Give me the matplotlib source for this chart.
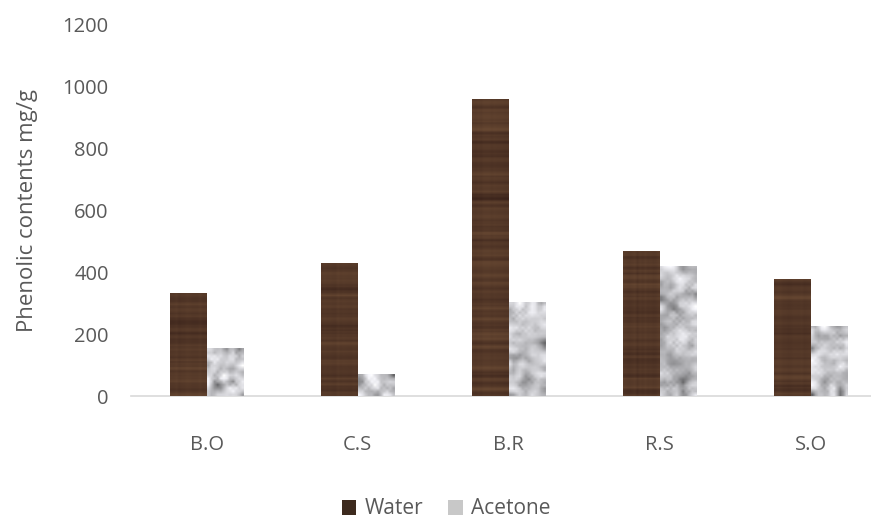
import matplotlib.pyplot as plt
import numpy as np
from matplotlib.patches import Patch

categories = ['B.O', 'C.S', 'B.R', 'R.S', 'S.O']
water = [333, 430, 961, 470, 378]
acetone = [155, 71, 304, 421, 227]

TEXT = '#595959'
plt.rcParams['font.family'] = ['Open Sans', 'DejaVu Sans']

rng = np.random.default_rng(7)


def blur(a, n=1):
    # small box blur so the noise looks like stone grain
    for _ in range(n):
        p = np.pad(a, 1, mode='edge')
        a = (p[:-2, 1:-1] + p[2:, 1:-1] + p[1:-1, :-2] + p[1:-1, 2:] + p[1:-1, 1:-1]) / 5
    return a


def wood_texture(rows, cols=14):
    streak = blur(rng.normal(0, 1, (rows, 1)).repeat(3, axis=1), 1)[:, :1]
    cols_v = rng.normal(0, 0.25, (1, cols))
    v = 0.5 + 0.18 * streak + 0.12 * cols_v
    v = np.clip(v, 0, 1)
    dark = np.array([0.22, 0.13, 0.10])
    light = np.array([0.45, 0.32, 0.22])
    return dark + (light - dark) * v[..., None]


def granite_texture(rows, cols=12):
    n = blur(rng.normal(0, 1, (rows, cols)), 2)
    n = (n - n.min()) / (n.max() - n.min())
    g = 0.4 + 0.6 * n ** 0.7
    return np.dstack([g, g, g * 1.02]).clip(0, 1)


fig = plt.figure(figsize=(8.71, 5.2), dpi=100)
ax = fig.add_axes([131 / 871, 124 / 520, 740 / 871, 371 / 520])

x = np.arange(len(categories))
w = 0.245
bars_w = ax.bar(x - w / 2, water, w, color='#3d2a1e', label='Water')
bars_a = ax.bar(x + w / 2, acetone, w, color='#b5b5b5', label='Acetone')

for bars, kind in [(bars_w, 'wood'), (bars_a, 'granite')]:
    for b in bars:
        x0, h = b.get_x(), b.get_height()
        rows = max(int(h * 0.309 / 3), 4)
        tex = wood_texture(rows * 2) if kind == 'wood' else granite_texture(rows)
        im = ax.imshow(tex, extent=[x0, x0 + b.get_width(), 0, h], aspect='auto',
                       interpolation='bilinear', zorder=3)
        im.set_clip_path(b)

ax.set_xlim(-0.5, 4.4)
ax.set_ylim(0, 1200)
ax.set_yticks(range(0, 1201, 200))
ax.set_xticks(x)
ax.set_xticklabels(categories)
ax.tick_params(axis='both', length=0, colors=TEXT, labelsize=14.5)
ax.tick_params(axis='x', pad=28)
ax.tick_params(axis='y', pad=16)
for s in ['top', 'right', 'left']:
    ax.spines[s].set_visible(False)
ax.spines['bottom'].set_color('#d9d9d9')
ax.spines['bottom'].set_linewidth(1.2)
ax.set_ylabel('Phenolic contents mg/g', color=TEXT, fontsize=16, labelpad=18)

handles = [Patch(facecolor='#3d2a1e', label='Water'),
           Patch(facecolor='#c8c8c8', label='Acetone')]
fig.legend(handles=handles, loc='center', bbox_to_anchor=(446 / 871, 1 - 509 / 520),
           ncol=2, frameon=False, fontsize=15, labelcolor=TEXT,
           handlelength=0.7, handleheight=0.7, handletextpad=0.4, columnspacing=1.2)

fig.savefig('out.png', dpi=100)
